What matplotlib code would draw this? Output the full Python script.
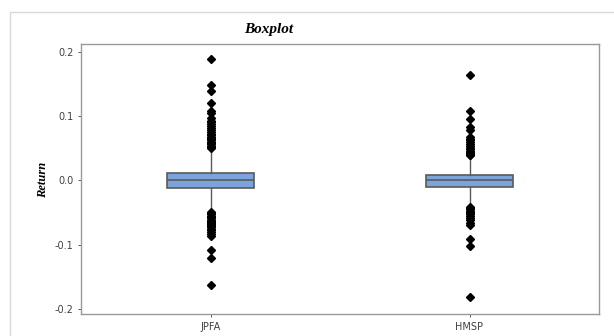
import matplotlib.pyplot as plt
from matplotlib.patches import Rectangle

labels = ['JPFA', 'HMSP']
q1 = [-0.0125, -0.011]
med = [0.0, 0.0]
q3 = [0.0118, 0.0078]
whislo = [-0.046, -0.0385]
whishi = [0.046, 0.037]

jpfa_out = [0.188, 0.148, 0.1395, 0.121, 0.108, 0.105,
            0.0965, 0.093, 0.090, 0.087, 0.084, 0.081, 0.078, 0.075, 0.072,
            0.070, 0.068, 0.066, 0.064, 0.062, 0.060, 0.058, 0.056, 0.054,
            0.052, 0.050,
            -0.049, -0.051, -0.053, -0.055, -0.057, -0.059, -0.061, -0.063,
            -0.065, -0.066, -0.067, -0.068, -0.069, -0.071, -0.073, -0.075,
            -0.078, -0.081, -0.084, -0.087, -0.1085, -0.121, -0.163]
hmsp_out = [0.164, 0.108, 0.096, 0.0825, 0.079, 0.068, 0.065, 0.062,
            0.059, 0.056, 0.053, 0.050, 0.048, 0.046, 0.044, 0.042, 0.041,
            0.040, 0.039,
            -0.041, -0.043, -0.045, -0.047, -0.049, -0.051, -0.053, -0.056,
            -0.059, -0.062, -0.066, -0.0695, -0.092, -0.102, -0.181]
fliers = [jpfa_out, hmsp_out]

stats = []
for i in range(len(labels)):
    stats.append(dict(label=labels[i], q1=q1[i], med=med[i], q3=q3[i],
                      whislo=whislo[i], whishi=whishi[i], fliers=fliers[i]))

fig = plt.figure(figsize=(6.14, 3.36), dpi=100)
ax = fig.add_axes([81/614, 1 - 314/336, (599-81)/614, (314-44)/336])

# outer light frame
fig.patches.append(Rectangle((10/614, -0.1), 1.2, 1.1 - 12/336,
                             transform=fig.transFigure, fill=False,
                             edgecolor='#d8d8d8', linewidth=1))

ax.bxp(stats, positions=[1, 2], widths=0.335, patch_artist=True,
       showcaps=False,
       boxprops=dict(facecolor='#7ba4dc', edgecolor='#5a5a5a', linewidth=1.2),
       medianprops=dict(color='#5a5a5a', linewidth=1.2),
       whiskerprops=dict(color='#5a5a5a', linewidth=1),
       flierprops=dict(marker='D', markerfacecolor='black',
                       markeredgecolor='black', markersize=3.6))

ax.set_xlim(0.5, 2.5)
ax.set_ylim(-0.208, 0.212)
ax.set_yticks([-0.2, -0.1, 0.0, 0.1, 0.2])
ax.set_yticklabels(['-0.2', '-0.1', '0.0', '0.1', '0.2'])
ax.tick_params(labelsize=7, colors='#404040', length=2, width=0.6)
for s in ax.spines.values():
    s.set_color('#999999')
    s.set_linewidth(1)

fig.text(269/614, 1 - 30/336, 'Boxplot', ha='center', va='center',
         family='Liberation Serif', style='italic', weight='bold', fontsize=11)
fig.text(43/614, 1 - 180/336, 'Return', ha='center', va='center',
         rotation=90, family='Liberation Serif', style='italic',
         weight='bold', fontsize=9)

fig.savefig('out.png', dpi=100)
